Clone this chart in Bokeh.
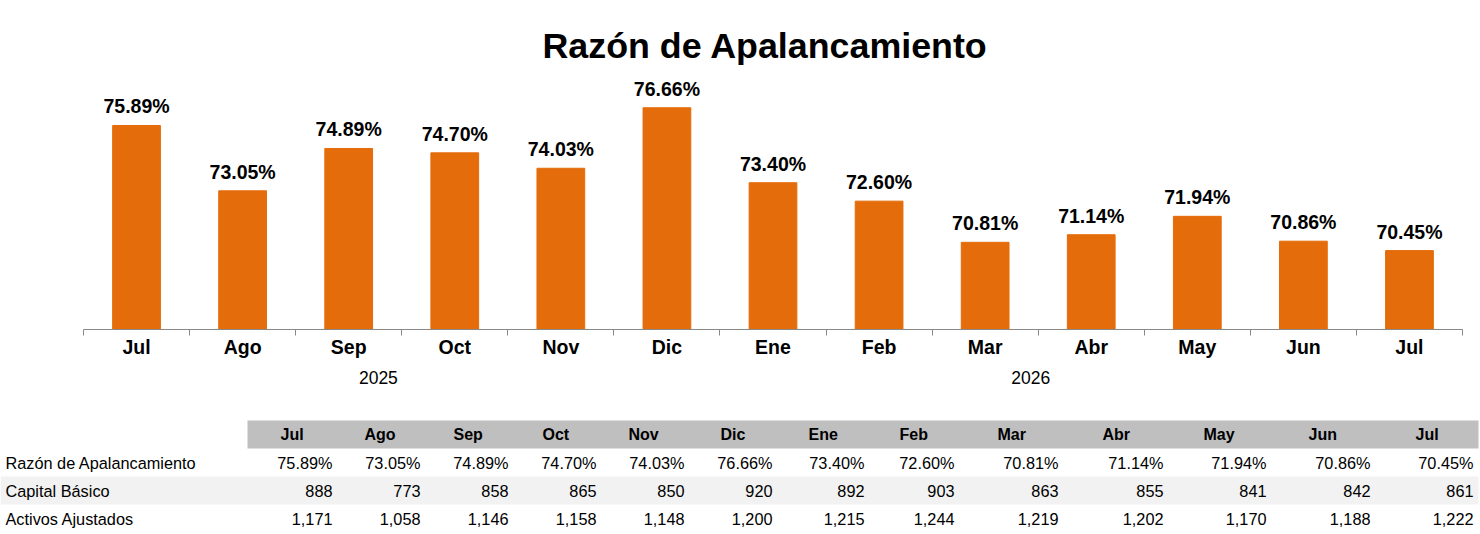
from bokeh.plotting import figure
from bokeh.models import Range1d, FixedTicker, LinearAxis, ColumnDataSource
from bokeh.layouts import column
from bokeh.core.properties import value
from bokeh.embed import file_html
from bokeh.resources import INLINE

# ---------------- data ----------------
months = ["Jul", "Ago", "Sep", "Oct", "Nov", "Dic", "Ene", "Feb", "Mar", "Abr", "May", "Jun", "Jul"]
ratio = [75.89, 73.05, 74.89, 74.70, 74.03, 76.66, 73.40, 72.60, 70.81, 71.14, 71.94, 70.86, 70.45]
capital = [888, 773, 858, 865, 850, 920, 892, 903, 863, 855, 841, 842, 861]
activos = [1171, 1058, 1146, 1158, 1148, 1200, 1215, 1244, 1219, 1202, 1170, 1188, 1222]
years = ["2025", "2026"]
row_names = ["Razón de Apalancamiento", "Capital Básico", "Activos Ajustados"]
title_text = "Razón de Apalancamiento"

# ---------------- layout constants ----------------
W, H_CHART, H_TABLE = 1480, 400, 134
Y_MIN, Y_MAX = 67.02, 78.28
N = len(months)
AX_LEFT, AX_RIGHT = 83, 1462          # pixel extent of the category axis
CAT_PX = (AX_RIGHT - AX_LEFT) / N
year_pos = [2.78, 8.93]
tbl_header_left = [280, 364, 453, 542, 628, 720, 808, 899, 997, 1102, 1203, 1308, 1415]
tbl_right = [332, 420, 508, 596, 684, 772, 864, 954, 1058, 1163, 1266, 1370, 1473]

ORANGE = "#E46C0A"
AXIS_GRAY = "#898989"
FONT = "Liberation Sans"

centers = [i + 0.5 for i in range(N)]
labels = [f"{v:.2f}%" for v in ratio]

# ---------------- chart ----------------
x_start = -AX_LEFT / CAT_PX
x_end = N + (W - AX_RIGHT) / CAT_PX
p = figure(width=W, height=H_CHART, x_range=Range1d(x_start, x_end), y_range=Range1d(Y_MIN, Y_MAX),
           output_backend="svg", toolbar_location=None, y_axis_location=None,
           min_border_left=0, min_border_right=0, min_border_top=70, min_border_bottom=71)
p.title.text = title_text
p.title.align = "left"
p.title.offset = 542
p.title.text_font = FONT
p.title.text_font_style = "bold"
p.title.text_font_size = "35.8px"
p.title.text_color = "black"

src = ColumnDataSource(dict(x=centers, top=ratio, label=labels))
p.vbar(x="x", top="top", bottom=Y_MIN, width=0.45, source=src,
       fill_color=ORANGE, line_color=ORANGE)
p.text(x="x", y="top", text="label", source=src, text_align="center", text_baseline="alphabetic",
       y_offset=-19, text_font=value(FONT), text_font_style="bold", text_font_size="19.5px",
       text_color="black")

p.xgrid.visible = False
p.ygrid.visible = False
p.outline_line_color = None

xa = p.xaxis[0]
xa.bounds = (0, N)
xa.ticker = FixedTicker(ticks=centers, minor_ticks=list(range(N + 1)))
xa.major_label_overrides = {c: m for c, m in zip(centers, months)}
xa.major_tick_in = 0
xa.major_tick_out = 0
xa.minor_tick_in = 0
xa.minor_tick_out = 6
xa.axis_line_color = AXIS_GRAY
xa.minor_tick_line_color = AXIS_GRAY
xa.major_label_text_font = FONT
xa.major_label_text_font_style = "bold"
xa.major_label_text_font_size = "19.5px"
xa.major_label_text_color = "black"
xa.major_label_standoff = 0

ya = LinearAxis(ticker=FixedTicker(ticks=year_pos, minor_ticks=[]),
                major_label_overrides={pos: y for pos, y in zip(year_pos, years)})
ya.axis_line_color = None
ya.major_tick_line_color = None
ya.minor_tick_line_color = None
ya.major_label_text_font = FONT
ya.major_label_text_font_size = "17.5px"
ya.major_label_text_color = "black"
ya.major_label_standoff = 4
p.add_layout(ya, "below")

# ---------------- table ----------------
ROW_PX = 28
HEADER_Y = 34  # header row centre, pixels from top of table area
t = figure(width=W, height=H_TABLE, x_range=Range1d(0, W),
           y_range=Range1d((H_TABLE - HEADER_Y) / ROW_PX, -HEADER_Y / ROW_PX),
           output_backend="svg", toolbar_location=None, min_border=0,
           x_axis_location=None, y_axis_location=None)
t.xgrid.visible = False
t.ygrid.visible = False
t.outline_line_color = None

t.quad(left=[247], right=[1478], top=[-0.5], bottom=[0.5], fill_color="#BFBFBF", line_color=None)
t.quad(left=[0], right=[1478], top=[1.5], bottom=[2.5], fill_color="#F2F2F2", line_color=None)

t.text(x=tbl_header_left, y=[0] * N, text=months, text_align="left", text_baseline="middle",
       text_font=value(FONT), text_font_style="bold", text_font_size="16px", text_color="black")
t.text(x=[5] * 3, y=[1, 2, 3], text=row_names, text_align="left", text_baseline="middle",
       text_font=value(FONT), text_font_size="16.3px", text_color="black")

rows = [[f"{v:.2f}%" for v in ratio], [f"{v:,}" for v in capital], [f"{v:,}" for v in activos]]
for r, vals in enumerate(rows, start=1):
    t.text(x=tbl_right, y=[r] * len(vals), text=vals, text_align="right", text_baseline="middle",
           text_font=value(FONT), text_font_size="16.3px", text_color="black")

layout = column(p, t, spacing=0)
open("out.html", "w").write(file_html(layout, INLINE))
